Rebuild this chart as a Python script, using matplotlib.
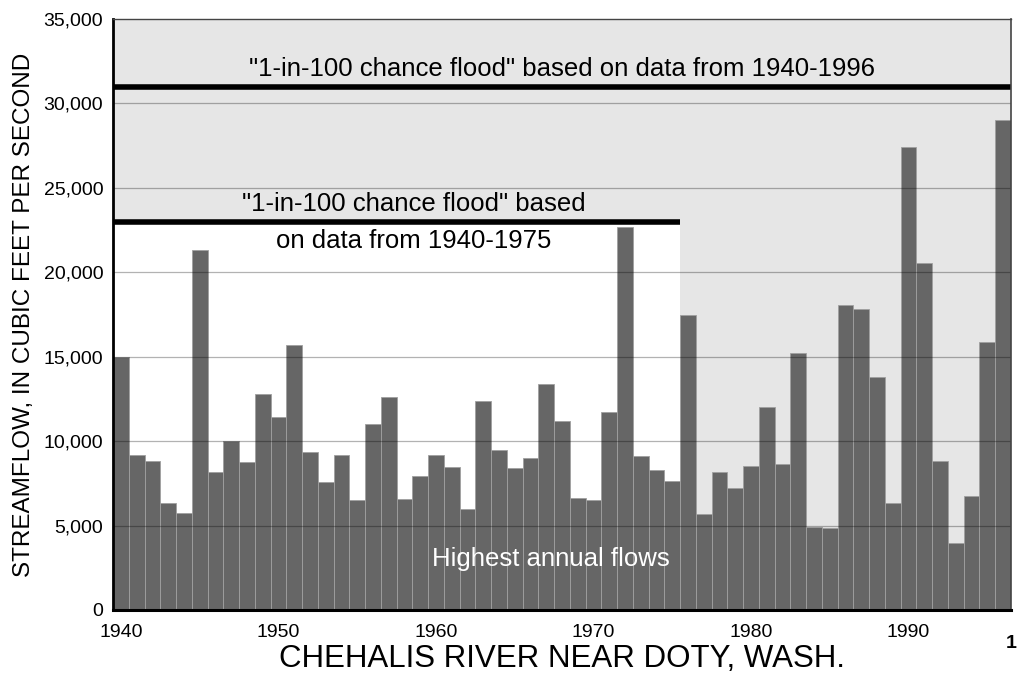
import matplotlib.pyplot as plt
import numpy as np

plt.rcParams['font.family'] = ['Liberation Sans', 'DejaVu Sans']

# annual peak flows, Chehalis River near Doty (cfs)
years = list(range(1940, 1997))
peak_flows = [
    15000, 9150, 8850, 6350, 5750, 21300, 8200, 10000, 8750, 12800,
    11400, 15700, 9350, 7600, 9150, 6500, 11000, 12600, 6600, 7950,
    9200, 8450, 6000, 12400, 9500, 8400, 9000, 13400, 11200, 6650,
    6500, 11700, 22700, 9100, 8300, 7650, 17450, 5700, 8150, 7250,
    8500, 12000, 8650, 15200, 4900, 4850, 18050, 17850, 13800, 6350,
    27400, 20550, 8800, 3950, 6750, 15850, 29000,
]

flood_1975 = 23000   # 1-in-100 flood from 1940-1975 data
flood_1996 = 31000   # 1-in-100 flood from 1940-1996 data
end_1975 = 1975

x_ticks = [1940, 1950, 1960, 1970, 1980, 1990]
y_ticks = [0, 5000, 10000, 15000, 20000, 25000, 30000, 35000]


def draw():
    fig = plt.figure(figsize=(10.2, 6.75), dpi=100)
    ax = fig.add_axes([0.1108, 0.0963, 0.8802, 0.8756])

    x0, x1 = years[0] - 0.5, years[-1] + 0.5
    ax.set_xlim(x0, x1)
    ax.set_ylim(0, 35000)
    ax.set_facecolor('#e6e6e6')

    # white area under the older flood line
    ax.fill_between([x0, end_1975 + 0.5], 0, flood_1975, color='white',
                    lw=0, zorder=0.5)

    ax.bar(years, peak_flows, width=1.0, color='#666666',
           edgecolor='#a0a0a0', linewidth=0.6, zorder=2)

    for v in y_ticks[1:-1]:
        ax.axhline(v, color='black', alpha=0.3, lw=0.9, zorder=3)

    ax.plot([x0, x1], [flood_1996, flood_1996], color='black', lw=4,
            solid_capstyle='butt', zorder=4)
    ax.plot([x0, end_1975 + 0.5], [flood_1975, flood_1975], color='black',
            lw=4, solid_capstyle='butt', zorder=4)

    ax.text((x0 + x1) / 2, flood_1996 + 350,
            '"1-in-100 chance flood" based on data from 1940-1996',
            ha='center', va='bottom', fontsize=18.5, zorder=5)
    ax.text(1958.6, flood_1975 + 350, '"1-in-100 chance flood" based',
            ha='center', va='bottom', fontsize=18.5, zorder=5)
    ax.text(1958.6, flood_1975 - 450, 'on data from 1940-1975',
            ha='center', va='top', fontsize=18.5, zorder=5)
    ax.text(1967.3, 3000, 'Highest annual flows', ha='center',
            va='center', color='white', fontsize=18.5, zorder=5)

    ax.set_xticks(x_ticks)
    ax.set_xticklabels([str(t) for t in x_ticks], fontsize=14)
    ax.set_yticks(y_ticks)
    ax.set_yticklabels(['{:,}'.format(t) for t in y_ticks], fontsize=14)
    ax.tick_params(axis='x', direction='in', length=8, width=1.8,
                   pad=10, color='black')
    ax.tick_params(axis='y', length=0, pad=7)
    for t in ax.get_xticklines():
        t.set_zorder(6)

    ax.spines['left'].set_linewidth(2)
    ax.spines['bottom'].set_linewidth(2.2)
    ax.spines['top'].set_linewidth(1)
    ax.spines['top'].set_color('#444444')
    ax.spines['right'].set_linewidth(1.2)
    ax.spines['right'].set_color('#444444')
    for s in ax.spines.values():
        s.set_zorder(7)

    ax.set_ylabel('STREAMFLOW, IN CUBIC FEET PER SECOND', fontsize=17.5,
                  labelpad=6)
    ax.set_xlabel('CHEHALIS RIVER NEAR DOTY, WASH.', fontsize=22.5,
                  labelpad=2)

    fig.text(0.997, 0.047, '1', ha='right', va='center', fontsize=14,
             fontweight='bold')

    fig.savefig('out.png', dpi=100)


if __name__ == '__main__':
    draw()
